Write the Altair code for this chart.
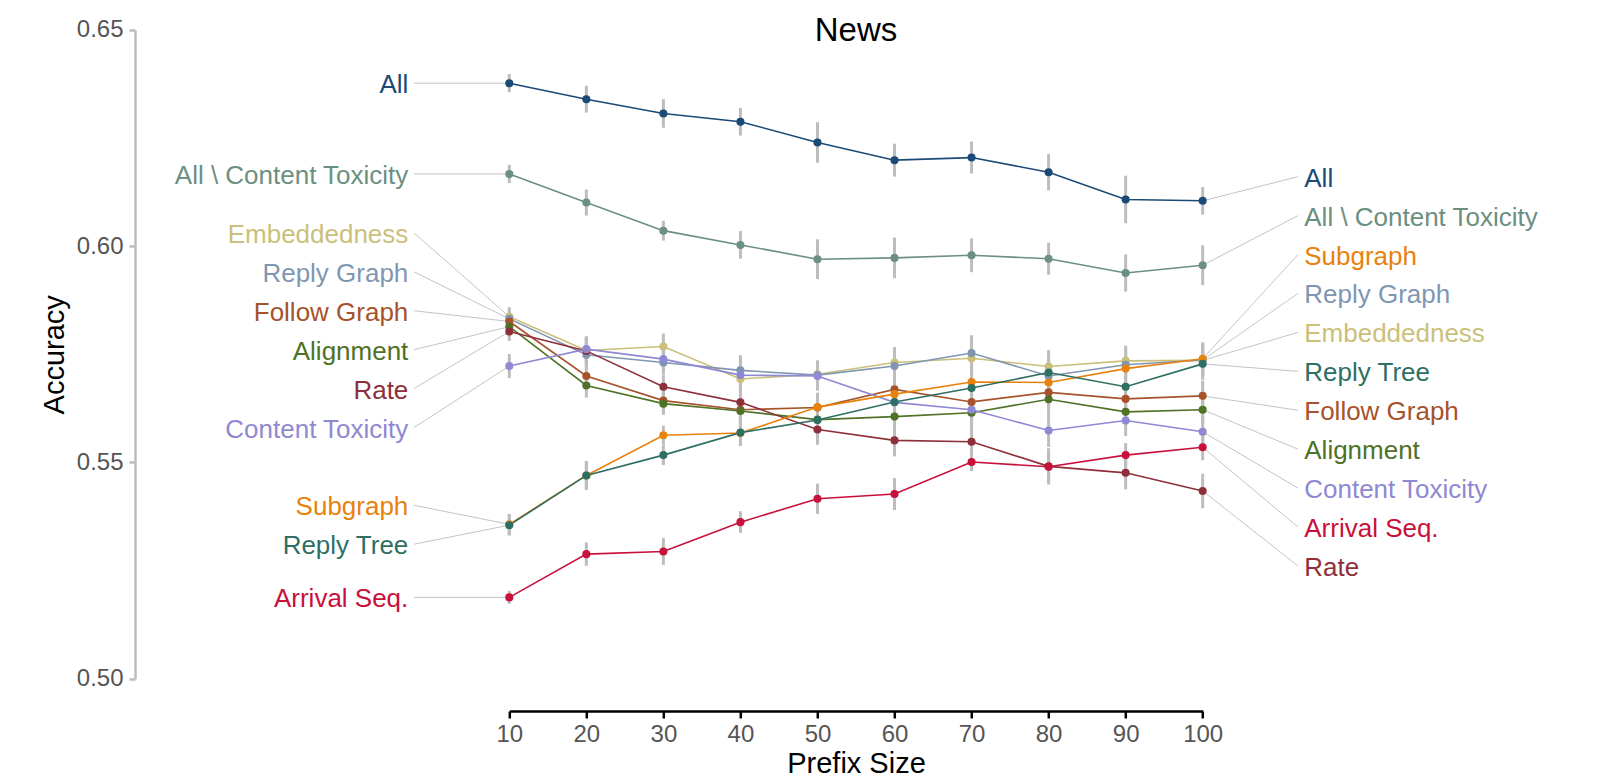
import altair as alt
import pandas as pd

# ---------------- data ----------------
prefix = [10, 20, 30, 40, 50, 60, 70, 80, 90, 100]

series_names = [
    "All", "All \\ Content Toxicity", "Embeddedness", "Reply Graph",
    "Follow Graph", "Alignment", "Rate", "Content Toxicity",
    "Subgraph", "Reply Tree", "Arrival Seq.",
]
series_colors = [
    "#1b4a77", "#6b9080", "#cbbf7a", "#7f96b2",
    "#a6532b", "#4e7226", "#8e2f39", "#8f88d2",
    "#e8820c", "#2e6f64", "#c8103a",
]

acc_all        = [0.6377, 0.6340, 0.6307, 0.6288, 0.6240, 0.6199, 0.6205, 0.6171, 0.6108, 0.6105]
acc_all_no_ct  = [0.6167, 0.6101, 0.6036, 0.6003, 0.5970, 0.5973, 0.5979, 0.5971, 0.5938, 0.5956]
acc_embedded   = [0.5837, 0.5759, 0.5768, 0.5693, 0.5704, 0.5731, 0.5741, 0.5722, 0.5735, 0.5736]
acc_reply_gr   = [0.5832, 0.5749, 0.5731, 0.5713, 0.5702, 0.5723, 0.5753, 0.5700, 0.5726, 0.5737]
acc_follow_gr  = [0.5826, 0.5700, 0.5643, 0.5622, 0.5627, 0.5669, 0.5640, 0.5662, 0.5647, 0.5654]
acc_alignment  = [0.5814, 0.5678, 0.5636, 0.5619, 0.5599, 0.5606, 0.5615, 0.5646, 0.5617, 0.5622]
acc_rate       = [0.5803, 0.5758, 0.5675, 0.5639, 0.5576, 0.5551, 0.5548, 0.5491, 0.5476, 0.5434]
acc_content_tx = [0.5723, 0.5762, 0.5739, 0.5702, 0.5700, 0.5639, 0.5622, 0.5574, 0.5597, 0.5571]
acc_subgraph   = [0.5357, 0.5470, 0.5563, 0.5568, 0.5628, 0.5658, 0.5686, 0.5685, 0.5717, 0.5740]
acc_reply_tree = [0.5355, 0.5470, 0.5517, 0.5569, 0.5598, 0.5640, 0.5672, 0.5708, 0.5675, 0.5728]
acc_arrival    = [0.5188, 0.5288, 0.5294, 0.5362, 0.5416, 0.5427, 0.5501, 0.5490, 0.5517, 0.5535]

err_all        = [0.0021, 0.0031, 0.0033, 0.0032, 0.0047, 0.0038, 0.0037, 0.0042, 0.0055, 0.0032]
err_all_no_ct  = [0.0021, 0.0030, 0.0023, 0.0032, 0.0046, 0.0047, 0.0039, 0.0037, 0.0043, 0.0046]
err_embedded   = [0.0022, 0.0030, 0.0030, 0.0034, 0.0032, 0.0036, 0.0040, 0.0038, 0.0035, 0.0036]
err_reply_gr   = [0.0022, 0.0030, 0.0028, 0.0035, 0.0033, 0.0035, 0.0041, 0.0037, 0.0036, 0.0038]
err_follow_gr  = [0.0023, 0.0029, 0.0027, 0.0033, 0.0034, 0.0037, 0.0039, 0.0036, 0.0034, 0.0035]
err_alignment  = [0.0023, 0.0028, 0.0026, 0.0032, 0.0033, 0.0036, 0.0038, 0.0036, 0.0033, 0.0034]
err_rate       = [0.0022, 0.0029, 0.0027, 0.0030, 0.0035, 0.0037, 0.0037, 0.0042, 0.0038, 0.0040]
err_content_tx = [0.0028, 0.0030, 0.0028, 0.0033, 0.0034, 0.0036, 0.0039, 0.0038, 0.0036, 0.0037]
err_subgraph   = [0.0024, 0.0033, 0.0022, 0.0030, 0.0033, 0.0035, 0.0038, 0.0036, 0.0035, 0.0038]
err_reply_tree = [0.0024, 0.0033, 0.0023, 0.0029, 0.0032, 0.0035, 0.0038, 0.0036, 0.0034, 0.0037]
err_arrival    = [0.0015, 0.0027, 0.0031, 0.0025, 0.0035, 0.0037, 0.0021, 0.0034, 0.0028, 0.0030]

series_acc = [acc_all, acc_all_no_ct, acc_embedded, acc_reply_gr, acc_follow_gr,
              acc_alignment, acc_rate, acc_content_tx, acc_subgraph, acc_reply_tree, acc_arrival]
series_err = [err_all, err_all_no_ct, err_embedded, err_reply_gr, err_follow_gr,
              err_alignment, err_rate, err_content_tx, err_subgraph, err_reply_tree, err_arrival]

# ---------------- layout constants ----------------
W, H = 693.4, 648.7
FONT = "Liberation Sans"
LABEL_GAP = 0.009          # min vertical gap between end labels (data units)

rows = []
for name, accs, errs in zip(series_names, series_acc, series_err):
    for x, a, e in zip(prefix, accs, errs):
        rows.append({"series": name, "prefix": x, "acc": a, "lo": a - e, "hi": a + e})
df = pd.DataFrame(rows)


def spread_labels(values, gap):
    """Least-squares placement of labels (descending order) with a minimum gap."""
    order = sorted(range(len(values)), key=lambda i: -values[i])
    blocks = []

    def centre(block):
        return sum(values[i] + k * gap for k, i in enumerate(block)) / len(block)

    for i in order:
        blocks.append([i])
        while len(blocks) > 1:
            prev, cur = blocks[-2], blocks[-1]
            prev_bottom = centre(prev) - (len(prev) - 1) * gap
            if prev_bottom - centre(cur) < gap - 1e-12:
                blocks[-2] = prev + cur
                blocks.pop()
            else:
                break
    pos = [0.0] * len(values)
    for block in blocks:
        c = centre(block)
        for k, i in enumerate(block):
            pos[i] = c - k * gap
    return pos


first_vals = [a[0] for a in series_acc]
last_vals = [a[-1] for a in series_acc]
left_pos = spread_labels(first_vals, LABEL_GAP)
right_pos = spread_labels(last_vals, LABEL_GAP)

left_df = pd.DataFrame({"series": series_names, "prefix": prefix[0],
                        "acc": first_vals, "ly": left_pos})
right_df = pd.DataFrame({"series": series_names, "prefix": prefix[-1],
                         "acc": last_vals, "ly": right_pos})

# ---------------- encodings ----------------
x_scale = alt.Scale(domain=[10, 100], nice=False, zero=False)
y_scale = alt.Scale(domain=[0.50, 0.65], nice=False, zero=False)
x_axis = alt.Axis(values=prefix, title="Prefix Size")
y_axis = alt.Axis(values=[0.50, 0.55, 0.60, 0.65], format=".2f", title="Accuracy")
color = alt.Color("series:N", scale=alt.Scale(domain=series_names, range=series_colors), legend=None)


def X(field="prefix"):
    return alt.X(f"{field}:Q", scale=x_scale, axis=x_axis)


def Y(field):
    return alt.Y(f"{field}:Q", scale=y_scale, axis=y_axis)


errbars = alt.Chart(df).mark_rule(color="#bdbdbd", strokeWidth=3).encode(
    x=X(), y=Y("lo"), y2="hi:Q"
)
lines = alt.Chart(df).mark_line(strokeWidth=1.6).encode(
    x=X(), y=Y("acc"), color=color, detail="series:N"
)
points = alt.Chart(df).mark_circle(size=65, opacity=1).encode(
    x=X(), y=Y("acc"), color=color
)

left_conn = alt.Chart(left_df).mark_rule(color="#c4c4c4", strokeWidth=1).encode(
    x=X(), x2=alt.value(-95.3), y=Y("acc"), y2="ly:Q"
)
left_text = alt.Chart(left_df).mark_text(
    align="right", baseline="middle", dx=-101, dy=2, fontSize=26, font=FONT
).encode(x=X(), y=Y("ly"), text="series:N", color=color)

right_conn = alt.Chart(right_df).mark_rule(color="#c4c4c4", strokeWidth=1).encode(
    x=X(), x2=alt.value(788.7), y=Y("acc"), y2="ly:Q"
)
right_text = alt.Chart(right_df).mark_text(
    align="left", baseline="middle", dx=101.6, dy=2, fontSize=26, font=FONT
).encode(x=X(), y=Y("ly"), text="series:N", color=color)

chart = alt.layer(
    errbars, left_conn, right_conn, lines, points, left_text, right_text
).properties(
    width=W, height=H,
    title=alt.TitleParams("News", fontSize=33, font=FONT, fontWeight="normal",
                          color="#000000", anchor="middle", frame="group",
                          offset=-30.5),
    autosize=alt.AutoSizeParams(type="none"),
    padding={"left": 501.3, "top": 22, "right": 380, "bottom": 100},
).configure_view(stroke=None).configure_axis(
    grid=False, labelFont=FONT, titleFont=FONT, labelFontSize=24, titleFontSize=29,
    labelColor="#555555", titleColor="#000000", titleFontWeight="normal",
).configure_axisY(
    offset=374.3, domainColor="#bdbdbd", domainWidth=2.5, tickColor="#bdbdbd",
    tickWidth=2.5, tickSize=6, labelPadding=6, titlePadding=7,
).configure_axisX(
    offset=32.3, domainColor="#000000", domainWidth=2.5, tickColor="#000000",
    tickWidth=2.5, tickSize=7, labelPadding=5, titlePadding=3, labelFlush=False,
)

chart.save("out.html", embed_options={"renderer": "svg", "actions": False})
